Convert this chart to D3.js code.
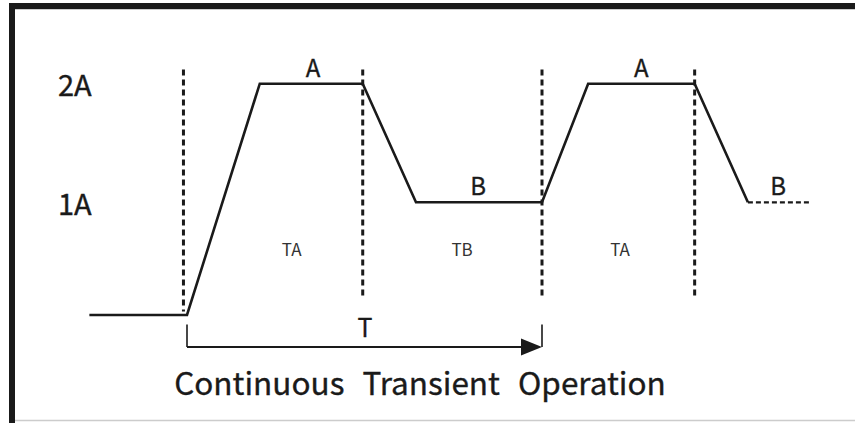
<!DOCTYPE html>
<html><head><meta charset="utf-8">
<script src="https://cdn.jsdelivr.net/npm/d3@7"></script>
<style>body{margin:0;background:#fff;}svg{display:block;}</style>
</head><body><div id="chart"></div>
<script>
// waveform (time units, current level in A)
const waveTime  = [-2.75, 0, 2.05, 4.95, 6.45, 10, 11.3, 14.3, 15.8];
const waveLevel = [0.05, 0.05, 2, 2, 1, 1, 2, 2, 1];
// dashed tail of the last B interval
const tailTime  = [15.8, 17.55];
const tailLevel = [1, 1];
// vertical dashed boundaries
const markTime   = [-0.1, 4.95, 10, 14.3];
const markTop    = [2.12, 2.12, 2.12, 2.12];
const markBottom = [0.08, 0.19, 0.19, 0.19];
// y labels
const yTickLevels = [2, 1];
const yTickLabels = ["2A", "1A"];
// plateau labels
const plateauNames = ["A", "B", "A", "B"];
const plateauTime  = [3.55, 8.2, 12.8, 16.65];
const plateauLevel = [2, 1, 2, 1];
// interval labels
const intervalNames = ["TA", "TB", "TA"];
const intervalTime  = [2.95, 7.75, 12.2];
const intervalLevel = [0.55, 0.55, 0.55];
// period arrow
const periodStart = 0, periodEnd = 10, periodLevel = -0.22, periodTickTop = -0.03;
const periodName = "T";
const title = "Continuous Transient Operation";

const W = 855, H = 423;
const svg = d3.select("#chart").append("svg").attr("width", W).attr("height", H);
const ink = "#1a1a1a";
const font = "'Noto Sans CJK SC','Noto Sans',sans-serif";

const x = d3.scaleLinear().domain([0, 10]).range([187, 542]);
const y = d3.scaleLinear().domain([1, 2]).range([202.3, 83.7]);

// frame
svg.append("rect").attr("x", 9).attr("y", 3).attr("width", W - 9).attr("height", 6).attr("fill", ink);
svg.append("rect").attr("x", 9).attr("y", 3).attr("width", 6).attr("height", H - 3).attr("fill", ink);
svg.append("line").attr("x1", 15).attr("x2", W).attr("y1", 9.5).attr("y2", 9.5).attr("stroke", "#ccc").attr("stroke-width", 1);
svg.append("line").attr("x1", 15).attr("x2", W).attr("y1", 420.5).attr("y2", 420.5).attr("stroke", "#ccc").attr("stroke-width", 1.5);

// vertical dashed boundaries
svg.selectAll("line.mark").data(markTime).join("line").attr("class", "mark")
  .attr("x1", d => x(d)).attr("x2", d => x(d))
  .attr("y1", (d, i) => y(markTop[i])).attr("y2", (d, i) => y(markBottom[i]))
  .attr("stroke", ink).attr("stroke-width", 3).attr("stroke-dasharray", "6,4");

// waveform
const line = d3.line().x(d => x(d[0])).y(d => y(d[1]));
svg.append("path").datum(waveTime.map((t, i) => [t, waveLevel[i]]))
  .attr("d", line).attr("fill", "none").attr("stroke", ink).attr("stroke-width", 2.6)
  .attr("stroke-linejoin", "miter");
svg.append("path").datum(tailTime.map((t, i) => [t, tailLevel[i]]))
  .attr("d", line).attr("fill", "none").attr("stroke", ink).attr("stroke-width", 2.2)
  .attr("stroke-dasharray", "5,3");

function txt(sel, size, stroke) {
  sel.attr("font-family", font).attr("font-size", size).attr("fill", ink)
    .attr("stroke", ink).attr("stroke-width", stroke).attr("paint-order", "stroke");
}

// y labels
txt(svg.selectAll("text.ylab").data(yTickLevels).join("text").attr("class", "ylab")
  .attr("x", 58).attr("y", d => y(d) + 12.5).text((d, i) => yTickLabels[i]), 29, 0.35);

// plateau labels
txt(svg.selectAll("text.plat").data(plateauNames).join("text").attr("class", "plat")
  .attr("x", (d, i) => x(plateauTime[i])).attr("y", (d, i) => y(plateauLevel[i]) - 7)
  .attr("text-anchor", "middle").text(d => d), 24, 0.3);

// interval labels
svg.selectAll("text.intv").data(intervalNames).join("text").attr("class", "intv")
  .attr("x", (d, i) => x(intervalTime[i])).attr("y", (d, i) => y(intervalLevel[i]))
  .attr("text-anchor", "middle").text(d => d)
  .attr("font-family", font).attr("font-size", 17).attr("fill", "#333");

// period arrow
const ay = y(periodLevel);
svg.append("line").attr("x1", x(periodStart)).attr("x2", x(periodEnd) - 18)
  .attr("y1", ay).attr("y2", ay).attr("stroke", ink).attr("stroke-width", 2.2);
svg.append("path")
  .attr("d", `M${x(periodEnd)},${ay} L${x(periodEnd) - 21},${ay - 8.5} L${x(periodEnd) - 21},${ay + 8.5} Z`)
  .attr("fill", ink);
[periodStart, periodEnd].forEach(t => {
  svg.append("line").attr("x1", x(t)).attr("x2", x(t)).attr("y1", y(periodTickTop)).attr("y2", ay)
    .attr("stroke", ink).attr("stroke-width", 1.6);
});
txt(svg.append("text").attr("x", x((periodStart + periodEnd) / 2) + 0.5).attr("y", 337)
  .attr("text-anchor", "middle").text(periodName), 25, 0.3);

// title
txt(svg.append("text").attr("x", 420).attr("y", 395).attr("text-anchor", "middle").text(title)
  .attr("word-spacing", 11), 31.5, 0.35);
</script></body></html>
